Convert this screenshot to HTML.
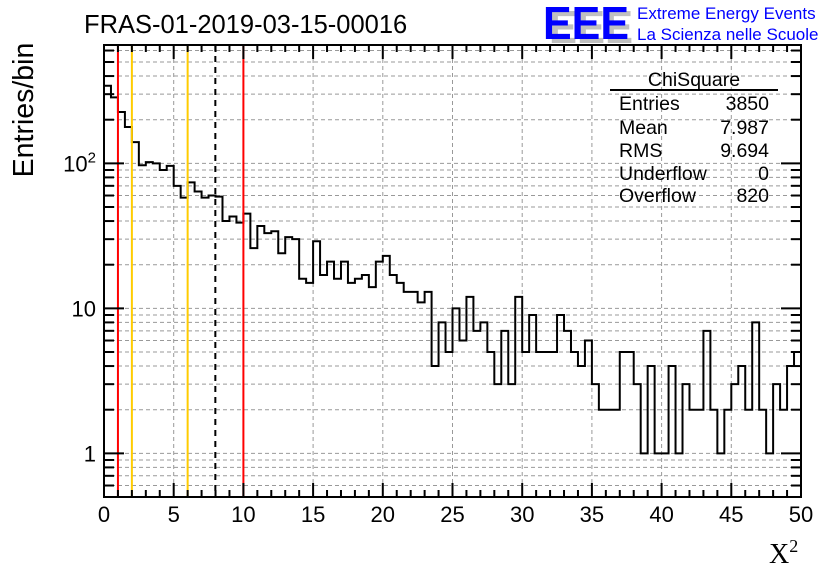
<!DOCTYPE html>
<html><head><meta charset="utf-8"><style>
html,body{margin:0;padding:0;background:#fff;}
svg{display:block;font-family:"Liberation Sans",sans-serif;}
</style></head><body>
<svg id="c" width="836" height="572" viewBox="0 0 836 572" xmlns="http://www.w3.org/2000/svg">
<rect width="836" height="572" fill="#fff"/>
<text x="84" y="33" font-size="25.5" fill="#000">FRAS-01-2019-03-15-00016</text>
<g>
<text x="549" y="43" font-size="46" font-weight="bold" fill="#c0c0c0" textLength="84" lengthAdjust="spacingAndGlyphs">EEE</text>
<text x="543" y="39" font-size="46" font-weight="bold" fill="#0000ff" textLength="86" lengthAdjust="spacingAndGlyphs">EEE</text>
<text x="637" y="19" font-size="17" fill="#0000ff">Extreme Energy Events</text>
<text x="637" y="40" font-size="17" fill="#0000ff">La Scienza nelle Scuole</text>
</g>
<text transform="translate(33,110) rotate(-90)" font-size="28.5" text-anchor="middle">Entries/bin</text>
<text x="769" y="563" font-size="28" font-family="Liberation Serif,serif">X<tspan font-size="18" dy="-11">2</tspan></text>
<g id="grid"></g><g id="marks"></g><g id="axes"></g>
<g font-size="19.5">
<text x="694" y="86" text-anchor="middle">ChiSquare</text>
<line x1="610" y1="90" x2="778" y2="90" stroke="#000" stroke-width="2"/>
<text x="619" y="110">Entries</text><text x="769" y="110" text-anchor="end">3850</text>
<text x="619" y="134">Mean</text><text x="769" y="134" text-anchor="end">7.987</text>
<text x="619" y="157">RMS</text><text x="769" y="157" text-anchor="end">9.694</text>
<text x="619" y="180">Underflow</text><text x="769" y="180" text-anchor="end">0</text>
<text x="619" y="202">Overflow</text><text x="769" y="202" text-anchor="end">820</text>
</g>
</svg>
<script>
const counts=[343,285,226,178,140,97,102,100,90,96,70,58,74,64,58,60,59,40,43,39,45,26,37,33,34,24,31,30,16,15,29,17,21,16,21,15,16,17,14,21,23,17,15,13,13,11,13,4,8,5,10,6,12,7,8,5,3,7,3,12,5,9,5,5,5,9,7,5,4,6,3,2,2,2,5,5,3,1,4,1,1,4,1,3,2,2,7,2,1,2,3,4,2,8,2,1,3,2,4,5];
const binWidth=0.5;
const xTicks=[0,5,10,15,20,25,30,35,40,45,50];
const yDecades=[1,10,100];
const yDecadeLabels=["1","10","10^2"];
const cutLines=[1,2,6,10];
const cutColors=["#ff0000","#ffcc00","#ffcc00","#ff0000"];
const meanValue=7.987;

const L=104,R=801,T=45,B=497;
const xMin=0,xMax=50,yMin=0.5,yMax=655;
const X=v=>L+(v-xMin)/(xMax-xMin)*(R-L);
const Y=v=>B-(Math.log10(v)-Math.log10(yMin))/(Math.log10(yMax)-Math.log10(yMin))*(B-T);
const NS="http://www.w3.org/2000/svg";
function mk(parent,tag,attrs){const e=document.createElementNS(NS,tag);for(const k in attrs)e.setAttribute(k,attrs[k]);document.getElementById(parent).appendChild(e);return e;}

xTicks.forEach(t=>{if(t>xMin&&t<xMax){const g=mk('grid','line',{x1:X(t),x2:X(t),y1:T,y2:B,stroke:'#999','stroke-dasharray':'4,3','stroke-width':1});

}});
for(let e=-1;e<=2;e++){for(let m=1;m<10;m++){const v=m*Math.pow(10,e);if(v<=yMin||v>=yMax)continue;const g=mk('grid','line',{x1:L,x2:R,y1:Y(v),y2:Y(v),stroke:'#999','stroke-dasharray':'4,3','stroke-width':1});

}}

let d='M'+X(0)+','+B;
counts.forEach((c,i)=>{const y=Y(Math.max(c,yMin));d+=' L'+X(i*binWidth)+','+y+' L'+X((i+1)*binWidth)+','+y;});
const h=mk('marks','path',{d:d,fill:'none',stroke:'#000','stroke-width':2});


cutLines.forEach((v,i)=>{const l=mk('marks','line',{x1:X(v),x2:X(v),y1:T,y2:B,stroke:cutColors[i],'stroke-width':2});

});
const ml=mk('marks','line',{x1:X(meanValue),x2:X(meanValue),y1:T,y2:B,stroke:'#000','stroke-width':2,'stroke-dasharray':'6,5'});



const fr=mk('axes','rect',{x:L,y:T,width:R-L,height:B-T,fill:'none',stroke:'#000','stroke-width':2});


for(let v=xMin;v<=xMax;v+=1){const major=v%5===0;const len=major?14:7;
mk('axes','line',{x1:X(v),x2:X(v),y1:B,y2:B-len,stroke:'#000','stroke-width':2});
mk('axes','line',{x1:X(v),x2:X(v),y1:T,y2:T+len,stroke:'#000','stroke-width':2});}
xTicks.forEach(t=>{const tx=mk('axes','text',{x:X(t),y:522,'font-size':22,'text-anchor':'middle'});tx.textContent=String(t);

});
for(let e=-1;e<=2;e++){for(let m=1;m<10;m++){const v=m*Math.pow(10,e);if(v<yMin||v>yMax)continue;const len=m===1?20:10;
mk('axes','line',{x1:L,x2:L+len,y1:Y(v),y2:Y(v),stroke:'#000','stroke-width':2});
mk('axes','line',{x1:R,x2:R-len,y1:Y(v),y2:Y(v),stroke:'#000','stroke-width':2});}}
yDecades.forEach((v,i)=>{const tx=mk('axes','text',{x:96,y:Y(v)+8,'font-size':22,'text-anchor':'end'});
const lab=yDecadeLabels[i];
if(lab.indexOf('^')>0){const p=lab.split('^');tx.textContent=p[0];const ts=document.createElementNS(NS,'tspan');ts.setAttribute('font-size','15');ts.setAttribute('dy','-9');ts.textContent=p[1];tx.appendChild(ts);}
else tx.textContent=lab;

});
</script>
</body></html>
